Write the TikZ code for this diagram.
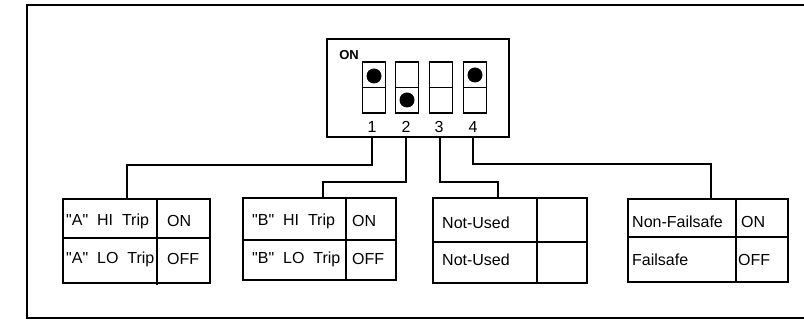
\documentclass[tikz,border=0pt]{standalone}
\usepackage{fontspec}
\setmainfont{Liberation Sans}
\begin{document}
\begin{tikzpicture}[x=1pt,y=-1pt,
  thick line/.style={line width=1.7pt},
  lbl/.style={font=\fontsize{16}{18}\selectfont, anchor=west, inner sep=0pt},
  num/.style={font=\fontsize{16}{18}\selectfont, inner sep=0pt},
  slot/.style={draw, line width=1.7pt},
  dot/.style={fill=black, circle, inner sep=0pt, minimum size=15pt}]
\useasboundingbox (0,0) rectangle (804,320);
\clip (0,0) rectangle (804,320);
% outer frame
\draw[line width=1.8pt] (27,5) rectangle (808,318);
% DIP switch body
\node[draw, line width=1.7pt, minimum width=182pt, minimum height=98pt, inner sep=0pt] (dip) at (418,88) {};
\node[font=\bfseries\fontsize{13}{14}\selectfont, inner sep=0pt] (onlbl) at (349,55) {ON};
% slots
\foreach \i/\x in {1/374,2/407,3/441,4/475}{
  \node[slot, minimum width=23pt, minimum height=51pt, inner sep=0pt] (s\i) at (\x,87.5) {};
  \draw[line width=1.7pt] (s\i.west) -- (s\i.east);
}
\node[dot] (d1) at (374,76) {};
\node[dot] (d2) at (407,100) {};
\node[dot] (d4) at (475,75) {};
\node[num] (n1) at (372,127) {1};
\node[num] (n2) at (406,127) {2};
\node[num] (n3) at (439,127) {3};
\node[num] (n4) at (473,127) {4};
\coordinate (p1) at (372,137);
\coordinate (p2) at (406,137);
\coordinate (p3) at (440,137);
\coordinate (p4) at (473,137);
% boxes
\node[draw, thick line, minimum width=147pt, minimum height=84pt, inner sep=0pt] (A) at (136.5,241) {};
\node[lbl] (a1) at (66,221) {\textquotedbl A\textquotedbl\ \ HI\ \ Trip};
\node[lbl] (a2) at (66,259) {\textquotedbl A\textquotedbl\ \ LO\ \ Trip};
\fill[white] (158,250) rectangle (166,270);
\draw[thick line] (157,199) -- (157,285);
\draw[thick line] (A.west |- 0,238) -- (A.east |- 0,238);
\node[draw, thick line, minimum width=153pt, minimum height=82pt, inner sep=0pt] (B) at (319.5,239) {};
\draw[thick line] (346,198) -- (346,280);
\draw[thick line] (B.west |- 0,240) -- (B.east |- 0,240);
\node[draw, thick line, minimum width=154pt, minimum height=85pt, inner sep=0pt] (C) at (510,240.5) {};
\draw[thick line] (537,198) -- (537,283);
\draw[thick line] (C.west |- 0,242) -- (C.east |- 0,242);
\node[draw, thick line, minimum width=160pt, minimum height=83pt, inner sep=0pt] (D) at (708,240.5) {};
\draw[thick line] (736,199) -- (736,282);
\draw[thick line] (D.west |- 0,237) -- (D.east |- 0,237);
% labels
\node[lbl] (a3) at (167,221) {ON};
\node[lbl] (a4) at (167,259) {OFF};
\node[lbl] (b1) at (252,221) {\textquotedbl B\textquotedbl\ \ HI\ \ Trip};
\node[lbl] (b2) at (252,259) {\textquotedbl B\textquotedbl\ \ LO\ \ Trip};
\node[lbl] (b3) at (352,221) {ON};
\node[lbl] (b4) at (352,259) {OFF};
\node[lbl] (c1) at (442,223) {Not-Used};
\node[lbl] (c2) at (442,260) {Not-Used};
\node[lbl] (e1) at (632,222) {Non-Failsafe};
\node[lbl] (e2) at (632,260) {Failsafe};
\node[lbl] (e3) at (741,222) {ON};
\node[lbl] (e4) at (738,260) {OFF};
% connectors
\draw[thick line] (p1) -- (372,165) -- (127,165) -- (127,199);
\draw[thick line] (p2) -- (406,182) -- (323,182) -- (323,198);
\draw[thick line] (p3) -- (440,182) -- (498,182) -- (498,198);
\draw[thick line] (p4) -- (473,164) -- (711,164) -- (711,199);
\end{tikzpicture}
\end{document}
